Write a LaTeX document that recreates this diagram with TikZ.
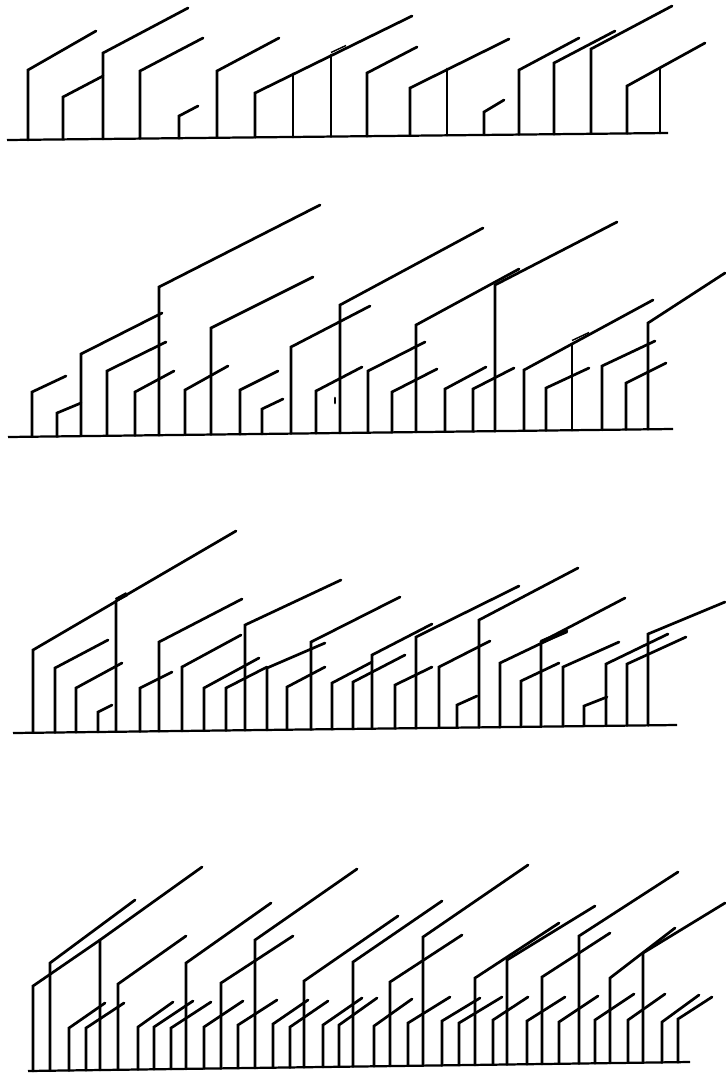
\documentclass[tikz,border=0pt]{standalone}
\begin{document}
\begin{tikzpicture}[x=0.03cm, y=-0.03cm,
                    twig/.style={line width=2.3pt, line cap=round},
                    ground/.style={line width=1.9pt},
                    knot/.style={line width=3.6pt}]
                    \useasboundingbox (0,0) rectangle (725,1073);
                    
                    % First tree: ground line and branches
                    \draw[ground] (7,140) -- (668,133);
                    \draw[twig] (28,140) -- (28,70) -- (96,31);
                    \draw[twig] (63,139.4) -- (63,97) -- (103,76);
                    \draw[twig] (103,139) -- (103,53) -- (188,8);
                    \draw[twig] (140,138.6) -- (140,71) -- (203,38);
                    \draw[twig] (179,138.2) -- (179,116) -- (198,106);
                    \draw[twig] (217,137.8) -- (217,71) -- (279,38);
                    \draw[twig] (255,137.4) -- (255,93) -- (412,16);
                    \draw[twig] (293,137) -- (293,74);
                    \draw[twig] (331,136.6) -- (331,55);
                    \draw[line width=1.2pt] (331,52.5) -- (346,45.5);
                    \draw[twig] (367,136.2) -- (367,73) -- (417,47);
                    \draw[twig] (410,135.7) -- (410,88) -- (509,39);
                    \draw[twig] (447,135.3) -- (447,69);
                    \draw[twig] (484,134.9) -- (484,112) -- (504,100);
                    \draw[twig] (519,134.6) -- (519,70) -- (579,38);
                    \draw[twig] (554,134.2) -- (554,63) -- (615,31);
                    \draw[twig] (591,133.8) -- (591,49) -- (672,6);
                    \draw[twig] (627,133.4) -- (627,86) -- (705,43);
                    \draw[twig] (660,133.1) -- (660,68);
                    
                    % Second tree
                    \draw[ground] (8,437) -- (673,429);
                    \draw[twig] (32,436.7) -- (32,392) -- (66,376);
                    \draw[twig] (57,436.4) -- (57,413) -- (81,403);
                    \draw[twig] (81,436.1) -- (81,354) -- (162,313);
                    \draw[twig] (107,435.8) -- (107,371) -- (166,342);
                    \draw[twig] (135,435.5) -- (135,392) -- (174,371);
                    \draw[twig] (159,435.2) -- (159,287) -- (320,205);
                    \draw[twig] (185,434.9) -- (185,390) -- (228,366);
                    \draw[twig] (211,434.6) -- (211,328) -- (313,277);
                    \draw[twig] (240,434.2) -- (240,390) -- (278,371);
                    \draw[twig] (262,434) -- (262,409) -- (283,399);
                    \draw[twig] (291,433.6) -- (291,347) -- (370,306);
                    \draw[twig] (316,433.3) -- (316,391) -- (362,367);
                    \draw[twig] (335,398) -- (335,403);
                    \draw[twig] (340,433) -- (340,305) -- (483,228);
                    \draw[twig] (368,432.7) -- (368,371) -- (425,342);
                    \draw[twig] (392,432.4) -- (392,392) -- (437,369);
                    \draw[twig] (416,432.1) -- (416,325) -- (519,269);
                    \draw[twig] (445,431.8) -- (445,389) -- (486,367);
                    \draw[twig] (473,431.4) -- (473,389) -- (514,368);
                    \draw[twig] (495,431.2) -- (495,285) -- (617,222);
                    \draw[twig] (524,430.8) -- (524,370) -- (653,300);
                    \draw[twig] (546,430.5) -- (546,388) -- (589,368);
                    \draw[twig] (572,430.2) -- (572,344);
                    \draw[line width=1.2pt] (572,340.5) -- (589,332.5);
                    \draw[twig] (602,429.9) -- (602,366) -- (655,341);
                    \draw[twig] (626,429.6) -- (626,383) -- (666,363);
                    \draw[twig] (648,429.3) -- (648,323) -- (725,273);
                    
                    % Third tree
                    \draw[ground] (13,733) -- (677,725);
                    \draw[twig] (33,732.8) -- (33,650) -- (115,602);
                    \draw[twig] (55,732.5) -- (55,668) -- (108,640);
                    \draw[twig] (76,732.2) -- (76,688) -- (122,663);
                    \draw[twig] (98,732) -- (98,712) -- (112,705);
                    \draw[twig] (116,731.8) -- (116,601) -- (236,531);
                    \draw[knot] (116,600) -- (127,594);
                    \draw[twig] (140,731.5) -- (140,688) -- (172,672);
                    \draw[twig] (159,731.2) -- (159,642) -- (242,599);
                    \draw[twig] (182,731) -- (182,667) -- (241,635);
                    \draw[twig] (204,730.7) -- (204,688) -- (259,658);
                    \draw[twig] (226,730.4) -- (226,688) -- (267,667);
                    \draw[twig] (245,730.2) -- (245,625) -- (341,580);
                    \draw[twig] (267,730) -- (267,668) -- (325,643);
                    \draw[twig] (287,729.7) -- (287,687) -- (325,667);
                    \draw[twig] (311,729.4) -- (311,642) -- (400,597);
                    \draw[twig] (332,729.2) -- (332,683) -- (372,662);
                    \draw[twig] (353,728.9) -- (353,682) -- (405,655);
                    \draw[twig] (372,728.7) -- (372,655) -- (432,624);
                    \draw[twig] (395,728.4) -- (395,685) -- (432,667);
                    \draw[twig] (416,728.2) -- (416,637) -- (519,586);
                    \draw[twig] (439,727.9) -- (439,667) -- (490,641);
                    \draw[twig] (457,727.7) -- (457,705) -- (477,696);
                    \draw[twig] (479,727.4) -- (479,620) -- (578,568);
                    \draw[twig] (500,727.2) -- (500,663) -- (567,631);
                    \draw[knot] (541,642) -- (567,631);
                    \draw[twig] (521,726.9) -- (521,681) -- (559,663);
                    \draw[twig] (541,726.7) -- (541,642) -- (625,598);
                    \draw[twig] (563,726.4) -- (563,667) -- (619,642);
                    \draw[twig] (584,726.1) -- (584,706) -- (607,697);
                    \draw[twig] (606,725.9) -- (606,664) -- (668,634);
                    \draw[twig] (627,725.6) -- (627,664) -- (686,637);
                    \draw[twig] (648,725.4) -- (648,634) -- (725,602);
                    
                    % Fourth tree
                    \draw[ground] (28,1071) -- (690,1062);
                    \draw[twig] (33,1071) -- (33,986) -- (100,940);
                    \draw[twig] (50,1070.7) -- (50,963) -- (135,900);
                    \draw[twig] (69,1070.4) -- (69,1028) -- (105,1003);
                    \draw[twig] (86,1070.2) -- (86,1028) -- (124,1003);
                    \draw[twig] (100,1070) -- (100,940) -- (202,867);
                    \draw[twig] (118,1069.8) -- (118,984) -- (186,936);
                    \draw[twig] (138,1069.5) -- (138,1027) -- (173,1002);
                    \draw[twig] (154,1069.3) -- (154,1027) -- (193,1001);
                    \draw[twig] (171,1069.1) -- (171,1028) -- (211,1002);
                    \draw[twig] (186,1068.9) -- (186,963) -- (271,903);
                    \draw[twig] (204,1068.6) -- (204,1027) -- (243,1001);
                    \draw[twig] (221,1068.4) -- (221,983) -- (293,936);
                    \draw[twig] (238,1068.1) -- (238,1025) -- (277,1000);
                    \draw[twig] (255,1067.9) -- (255,940) -- (357,869);
                    \draw[twig] (273,1067.7) -- (273,1024) -- (308,1000);
                    \draw[twig] (290,1067.4) -- (290,1027) -- (328,1001);
                    \draw[twig] (304,1067.2) -- (304,981) -- (398,916);
                    \draw[twig] (323,1067) -- (323,1025) -- (362,998);
                    \draw[twig] (339,1066.8) -- (339,1025) -- (377,998);
                    \draw[twig] (353,1066.6) -- (353,962) -- (442,901);
                    \draw[twig] (374,1066.3) -- (374,1026) -- (412,999);
                    \draw[twig] (390,1066.1) -- (390,982) -- (462,935);
                    \draw[twig] (408,1065.8) -- (408,1023) -- (450,997);
                    \draw[twig] (423,1065.6) -- (423,937) -- (528,865);
                    \draw[twig] (442,1065.4) -- (442,1021) -- (480,998);
                    \draw[twig] (459,1065.1) -- (459,1023) -- (502,997);
                    \draw[twig] (475,1064.9) -- (475,978) -- (559,923);
                    \draw[twig] (493,1064.7) -- (493,1020) -- (528,997);
                    \draw[twig] (507,1064.5) -- (507,960) -- (595,906);
                    \draw[twig] (527,1064.2) -- (527,1021) -- (565,997);
                    \draw[twig] (542,1064) -- (542,977) -- (610,933);
                    \draw[twig] (559,1063.8) -- (559,1022) -- (598,996);
                    \draw[twig] (579,1063.5) -- (579,936) -- (678,872);
                    \draw[twig] (595,1063.3) -- (595,1020) -- (634,994);
                    \draw[twig] (610,1063.1) -- (610,978) -- (675,928);
                    \draw[twig] (628,1062.8) -- (628,1020) -- (665,994);
                    \draw[twig] (643,1062.6) -- (643,953) -- (725,903);
                    \draw[twig] (662,1062.4) -- (662,1022) -- (699,995);
                    \draw[twig] (678,1062.2) -- (678,1019) -- (712,997);
                    
                \end{tikzpicture}
\end{document}
